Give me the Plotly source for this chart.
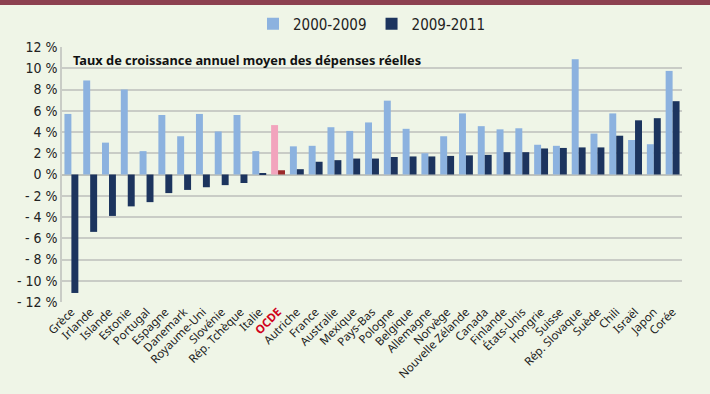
import plotly.graph_objects as go

countries = ["Grèce", "Irlande", "Islande", "Estonie", "Portugal", "Espagne", "Danemark",
             "Royaume-Uni", "Slovénie", "Rép. Tchèque", "Italie", "OCDE", "Autriche", "France",
             "Australie", "Mexique", "Pays-Bas", "Pologne", "Belgique", "Allemagne", "Norvège",
             "Nouvelle Zélande", "Canada", "Finlande", "États-Unis", "Hongrie", "Suisse",
             "Rép. Slovaque", "Suède", "Chili", "Israël", "Japon", "Corée"]

g2000_2009 = [5.7, 8.85, 3.0, 8.0, 2.2, 5.6, 3.6, 5.7, 4.05, 5.6, 2.2, 4.65, 2.65, 2.7,
              4.45, 4.1, 4.9, 6.95, 4.3, 2.0, 3.6, 5.75, 4.55, 4.25, 4.35, 2.8, 2.7,
              10.85, 3.85, 5.75, 3.25, 2.85, 9.75]
g2009_2011 = [-11.15, -5.4, -3.9, -3.0, -2.6, -1.75, -1.45, -1.2, -1.0, -0.8, 0.05, 0.4, 0.5, 1.2,
              1.35, 1.5, 1.5, 1.65, 1.7, 1.7, 1.75, 1.8, 1.85, 2.1, 2.1, 2.45, 2.5,
              2.55, 2.55, 3.65, 5.1, 5.3, 6.9]

y_ticks = [12, 10, 8, 6, 4, 2, 0, -2, -4, -6, -8, -10, -12]
y_tick_labels = ["12 %", "10 %", "8 %", "6 %", "4 %", "2 %", "0 %", "- 2 %", "- 4 %", "- 6 %",
                 "- 8 %", "- 10 %", "- 12 %"]

LIGHT = "#8cb2df"
DARK = "#1c345e"
light_colors = ["#f2a4bd" if c == "OCDE" else LIGHT for c in countries]
dark_colors = ["#9b2a2a" if c == "OCDE" else DARK for c in countries]
tick_text = ["<b><span style='color:#d0021b'>OCDE</span></b>" if c == "OCDE" else c for c in countries]

fig = go.Figure()
fig.add_trace(go.Bar(x=countries, y=g2000_2009, name="2000-2009",
                     marker=dict(color=light_colors, line=dict(width=0))))
fig.add_trace(go.Bar(x=countries, y=g2009_2011, name="2009-2011",
                     marker=dict(color=dark_colors, line=dict(width=0))))

cond = "DejaVu Sans Condensed, Liberation Sans Narrow, Arial Narrow, sans-serif"

fig.update_layout(
    width=710, height=394,
    margin=dict(l=62, r=28, t=47, b=92, autoexpand=False),
    paper_bgcolor="#eff5e7", plot_bgcolor="#eff5e7",
    barmode="group", bargap=0.26, bargroupgap=0.0,
    showlegend=True,
    legend=dict(orientation="h", x=0.5, xanchor="center", y=1.09, yanchor="middle",
                font=dict(family=cond, size=15, color="#222"), bgcolor="rgba(0,0,0,0)",
                itemwidth=30, tracegroupgap=0),
    font=dict(family="Noto Sans, sans-serif", color="#222"),
    xaxis=dict(tickmode="array", tickvals=countries, ticktext=tick_text, tickangle=-45,
               tickfont=dict(family="Noto Sans, sans-serif", size=11.5, color="#222"),
               showgrid=False, zeroline=False, showline=False, ticks="", automargin=False,
               range=[-0.5, len(countries) - 0.5]),
    yaxis=dict(range=[-12, 12], tickmode="array", tickvals=y_ticks, ticktext=y_tick_labels,
               tickfont=dict(family=cond, size=14, color="#222"), automargin=False,
               showgrid=True, gridcolor="#c9ccc6", gridwidth=1.5,
               zeroline=True, zerolinecolor="#bfc3bc", zerolinewidth=1.5,
               showline=True, linecolor="#c9ccc6", linewidth=1.5, ticks=""),
    annotations=[dict(text="<b>Taux de croissance annuel moyen des dépenses réelles</b>",
                      xref="paper", yref="paper", x=0.015, y=0.95, xanchor="left", yanchor="middle",
                      showarrow=False, font=dict(family="Noto Sans, sans-serif", size=12.8, color="#111"))],
    shapes=[dict(type="rect", xref="paper", yref="paper", x0=-0.2, x1=1.1, y0=1.165, y1=1.25,
                 fillcolor="#8c4150", line=dict(width=0), layer="below")],
)

fig.write_html("out.html", config={"displayModeBar": False},
               post_script="document.body.style.margin='0';document.body.style.background='#eff5e7';")
